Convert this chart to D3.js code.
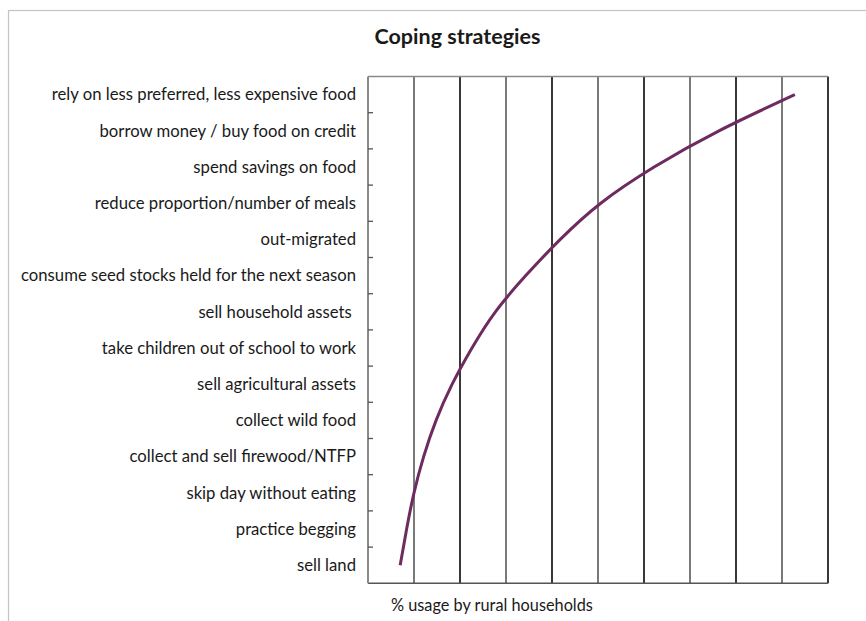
<!DOCTYPE html>
<html>
<head>
<meta charset="utf-8">
<script src="https://cdn.jsdelivr.net/npm/d3@7"></script>
<style>
  html, body { margin: 0; padding: 0; background: #fff; }
  svg { display: block; }
  text { font-family: Lato, "Open Sans", sans-serif; fill: #1a1a1a; }
</style>
</head>
<body>
<svg id="chart" width="866" height="621"></svg>
<script>
// Coping strategies, listed top to bottom
const strategies = [
  "rely on less preferred, less expensive food",
  "borrow money / buy food on credit",
  "spend savings on food",
  "reduce proportion/number of meals",
  "out-migrated",
  "consume seed stocks held for the next season",
  "sell household assets ",
  "take children out of school to work",
  "sell agricultural assets",
  "collect wild food",
  "collect and sell firewood/NTFP",
  "skip day without eating",
  "practice begging",
  "sell land"
];

// % of rural households using each strategy
const usage = [92.8, 76.3, 62.2, 50.6, 41.8, 34.3, 27.7, 22.6, 18.3, 14.8, 12.1, 10.0, 8.4, 7.0];

// Vertical gridline positions (% usage)
const gridTicks = [10, 20, 30, 40, 50, 60, 70, 80, 90, 100];

const title = "Coping strategies";
const xTitle = "% usage by rural households";

const svg = d3.select("#chart");
const plot = { left: 368, right: 828, top: 76.5, bottom: 583.3 };

// outer frame
svg.append("rect")
  .attr("x", 8.5).attr("y", 10.5)
  .attr("width", 900).attr("height", 700)
  .attr("fill", "none").attr("stroke", "#c4c4c4").attr("stroke-width", 1.2);

const x = d3.scaleLinear().domain([0, 100]).range([plot.left, plot.right]);
const y = d3.scaleBand().domain(strategies).range([plot.top, plot.bottom]).padding(0);

// gridlines
svg.append("g")
  .selectAll("line")
  .data(gridTicks)
  .join("line")
  .attr("x1", d => x(d)).attr("x2", d => x(d))
  .attr("y1", plot.top).attr("y2", plot.bottom)
  .attr("stroke", "#222")
  .attr("stroke-width", (d, i) => i % 2 === 0 ? 1.2 : 1.8);

// top and bottom edges of the plot area
svg.append("line")
  .attr("x1", plot.left).attr("x2", plot.right)
  .attr("y1", plot.top).attr("y2", plot.top)
  .attr("stroke", "#8a8a8a").attr("stroke-width", 1.5);
svg.append("line")
  .attr("x1", plot.left).attr("x2", plot.right)
  .attr("y1", plot.bottom).attr("y2", plot.bottom)
  .attr("stroke", "#555").attr("stroke-width", 1.5);

// category axis with inward tick marks between bands
const yAxis = svg.append("g").attr("transform", `translate(${plot.left},0)`);
yAxis.append("line")
  .attr("x1", 0).attr("x2", 0)
  .attr("y1", plot.top).attr("y2", plot.bottom)
  .attr("stroke", "#8a8a8a").attr("stroke-width", 2);
yAxis.selectAll("line.tick")
  .data(strategies.slice(1))
  .join("line")
  .attr("class", "tick")
  .attr("x1", 0).attr("x2", 5)
  .attr("y1", d => y(d)).attr("y2", d => y(d))
  .attr("stroke", "#555").attr("stroke-width", 1.3);

yAxis.selectAll("text")
  .data(strategies)
  .join("text")
  .attr("x", -12)
  .attr("y", d => y(d) + y.bandwidth() / 2)
  .attr("dy", "0.35em")
  .attr("text-anchor", "end")
  .style("white-space", "pre")
  .style("font-size", "16.7px")
  .text(d => d);

// usage curve
const line = d3.line()
  .x((d, i) => x(usage[i]))
  .y(d => y(d) + y.bandwidth() / 2)
  .curve(d3.curveNatural);

svg.append("path")
  .datum(strategies)
  .attr("d", line)
  .attr("fill", "none")
  .attr("stroke", "#6d2b60")
  .attr("stroke-width", 3)
  .attr("stroke-linejoin", "round");

// titles
svg.append("text")
  .attr("x", 457.5).attr("y", 44)
  .attr("text-anchor", "middle")
  .style("font-size", "21.5px")
  .style("font-weight", "bold")
  .text(title);

svg.append("text")
  .attr("x", 391).attr("y", 611)
  .style("font-size", "16.3px")
  .text(xTitle);
</script>
</body>
</html>
